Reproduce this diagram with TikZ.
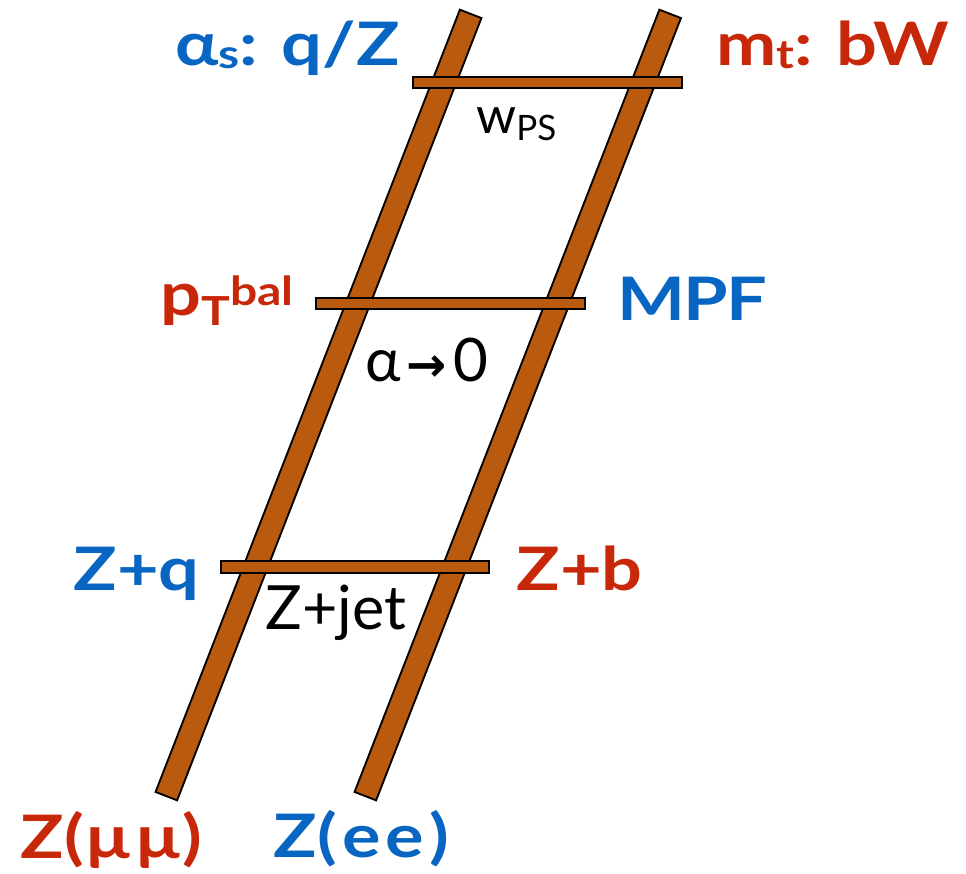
\documentclass[tikz,border=0pt]{standalone}
\usepackage{fontspec}
\setmainfont{Lato}
\newfontfamily\labfont{Lato Bold}[FakeStretch=1.2]
\newfontfamily\arrowfont{DejaVu Sans Bold}
\usetikzlibrary{positioning}

\definecolor{zblue}{RGB}{8,102,194}
\definecolor{tred}{RGB}{200,40,10}
\definecolor{railbrown}{RGB}{185,90,15}
\newcommand\fsz[1]{\fontsize{#1}{#1}\selectfont}

\begin{document}
\begin{tikzpicture}[
  x=0.5pt,
  y=-0.5pt,
  railedge/.style={line width=12.5pt},
  railfill/.style={draw=railbrown, line width=10.5pt, shorten <=1pt, shorten >=1pt},
  rung/.style={draw, fill=railbrown, line width=1pt},
  lab/.style={inner sep=0, anchor=base west, font=\labfont\fsz{30}},
  note/.style={inner sep=0, anchor=base west, font=\fsz{30}}
]
\useasboundingbox (0,0) rectangle (966,874);

% Rails
\coordinate (ltop) at (471,13);
\coordinate (lbot) at (166,797);
\coordinate (rtop) at (670.5,13);
\coordinate (rbot) at (365,797);
\foreach \a/\b in {ltop/lbot, rtop/rbot} {
  \draw[railedge] (\a) -- (\b);
  \draw[railfill] (\a) -- (\b);
}

% Rungs
\draw[rung] (413,77) rectangle (682,88);
\draw[rung] (316,298) rectangle (585,309);
\draw[rung] (221,561) rectangle (489,573);

% Top
\node[lab,text=zblue] (alphas) at (175,65) {α\raisebox{-1.5pt}{\fsz{20}s}: q/Z};
\node[lab,text=tred] (mtbw) at (716,65) {m\raisebox{-1.5pt}{\fsz{20}t}: bW};
\node[note,font=\fsz{25.5}] (wps) at (476,133) {w\raisebox{-3.5pt}{\fsz{17.5}PS}};

% Middle
\node[lab,text=tred] (ptbal) at (160,315) {p\raisebox{-5pt}{\fsz{20}T}\raisebox{5pt}{\fsz{20}bal}};
\node[lab,text=zblue] (mpf) at (617,320) {M\hspace{-1pt}P\hspace{-1pt}F};
\node[note] (alpha0) at (365,381) {α\hspace{3pt}{\arrowfont\fsz{24}→}\hspace{3pt}0};

% Bottom
\node[lab,text=zblue] (zq) at (73,590) {Z+q};
\node[lab,text=tred] (zb) at (516,590) {Z+b};
\node[note,font=\fsz{30.5}] (zjet) at (265,629) {Z+jet};
\node[lab,text=tred] (zmumu) at (20,858) {Z(\hspace{1.5pt}μ\hspace{3pt}μ\hspace{1.5pt})};
\node[lab,text=zblue] (zee) at (273,857) {Z(\hspace{3pt}e\hspace{2pt}e\hspace{3pt})};

\end{tikzpicture}
\end{document}
